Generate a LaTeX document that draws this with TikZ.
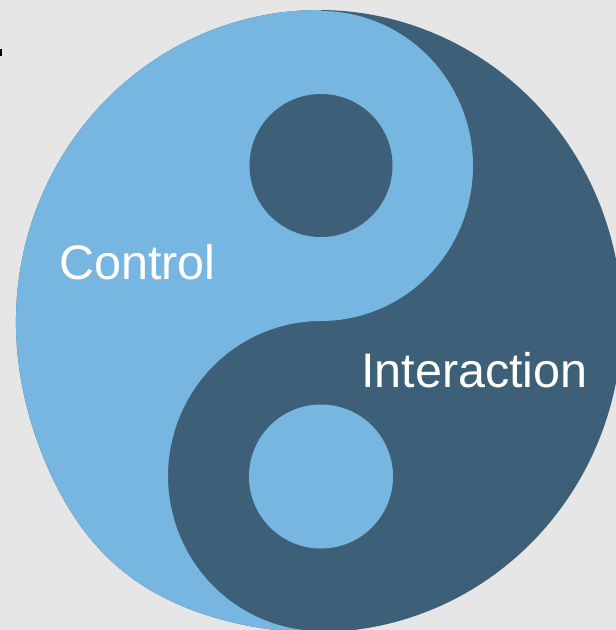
\documentclass[tikz,border=0pt]{standalone}
\usepackage{fontspec}
\setmainfont{Liberation Sans}
\definecolor{bgc}{HTML}{E6E6E6}
\definecolor{lightc}{HTML}{76B6E0}
\definecolor{darkc}{HTML}{3D6078}
\tikzset{
  lbl/.style={text=white, inner sep=0pt, anchor=base west, font=\fontsize{48.5}{58}\selectfont}
}
\begin{document}
\begin{tikzpicture}[x=1pt,y=-1pt]
\path[use as bounding box] (0,0) rectangle (616,630);
\fill[bgc] (0,0) rectangle (616,630);
\fill[black] (0,49) rectangle (1.5,56);
\def\outerpath{plot[domain=0:360, samples=240, smooth]
  ({319+(303+10*exp(-((\x-130)/22)^2))*cos(\x)},
   {321+(311+10*exp(-((\x-130)/22)^2))*sin(\x)}) -- cycle}
\fill[darkc] \outerpath;
\begin{scope}
\clip \outerpath;
\fill[lightc] (321,-50) -- (321,11)
  -- plot[domain=-90:90, samples=90] ({321+152*cos(\x)}, {166+155*sin(\x)})
  -- plot[domain=-90:90, samples=90] ({321-153*cos(\x)}, {476+155*sin(\x)})
  -- (321,700) -- (-50,700) -- (-50,-50) -- cycle;
\end{scope}
\fill[darkc] (321,165.5) circle[radius=71.5pt];
\fill[lightc] (321,476.5) circle[radius=72pt];
\node[lbl] (ctl) at (59,279) {Control};
\node[lbl] (int) at (361,387) {Interaction};
\end{tikzpicture}
\end{document}
